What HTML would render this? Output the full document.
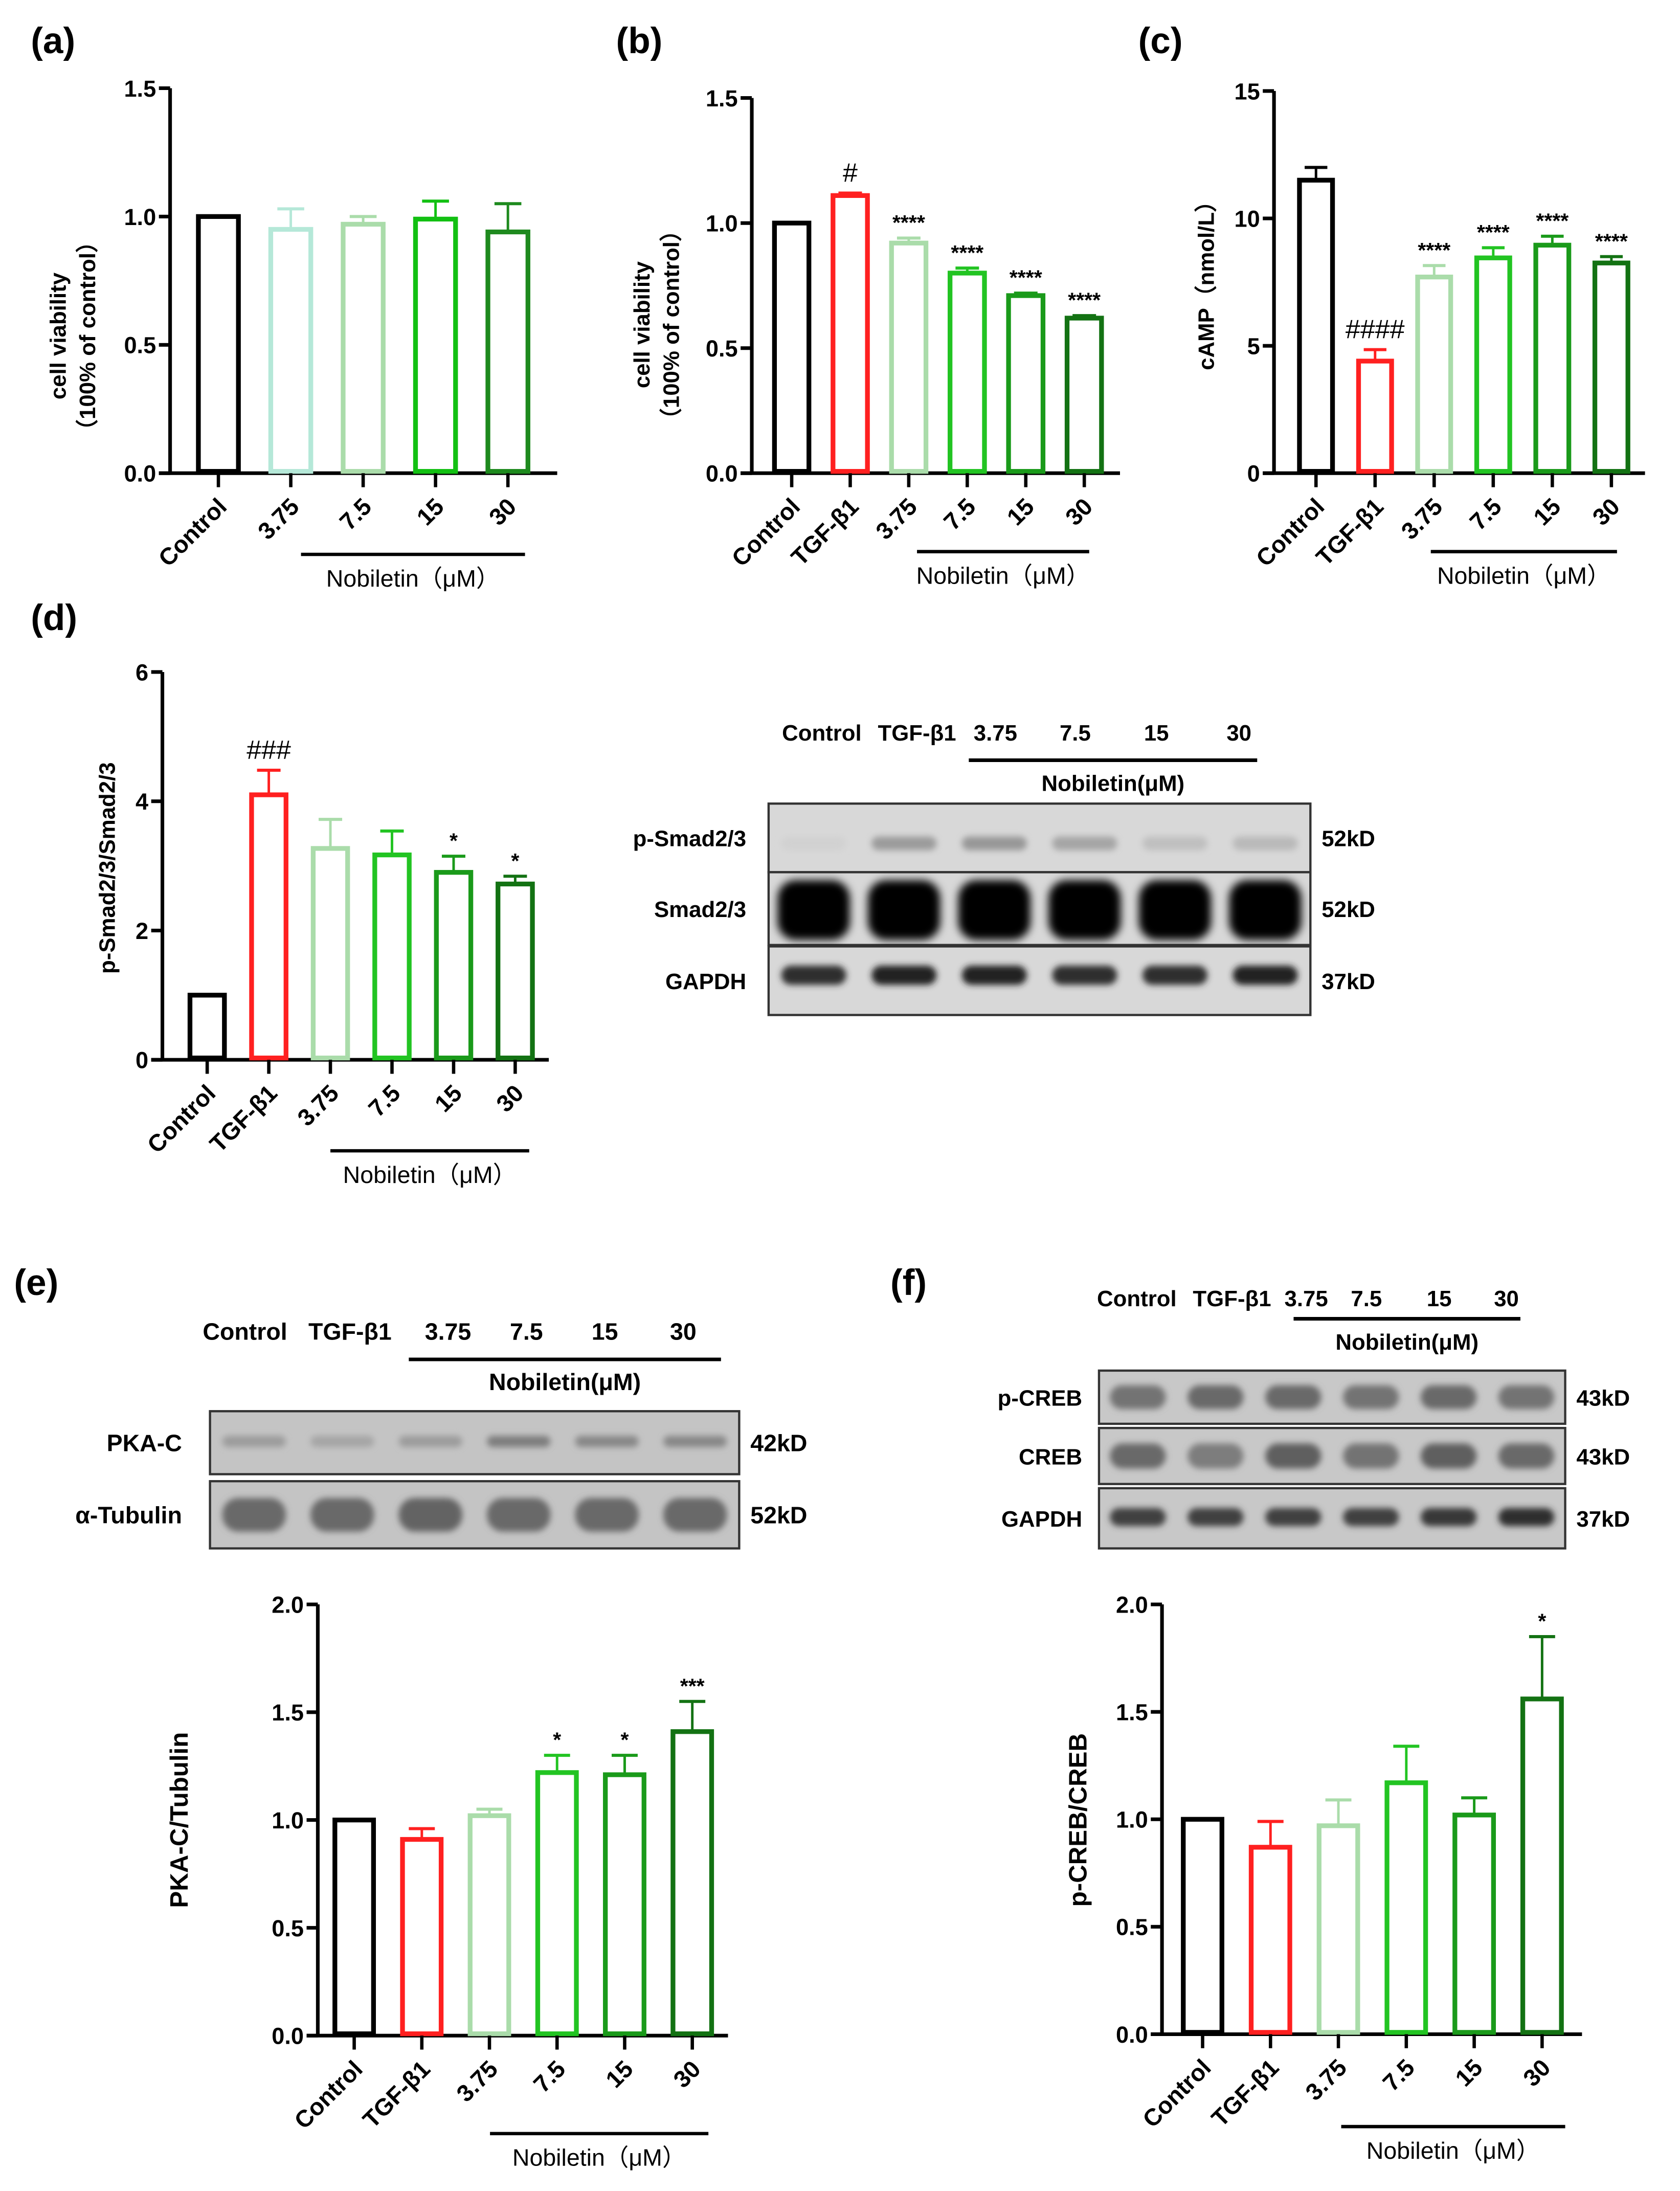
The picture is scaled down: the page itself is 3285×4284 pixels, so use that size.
<!DOCTYPE html>
<html><head><meta charset="utf-8"><style>
html,body{margin:0;padding:0;background:#fff}
svg{display:block}
text{font-family:"Liberation Sans",Arial,sans-serif;font-weight:bold;fill:#000}
</style></head><body>
<svg id="fig" width="3285" height="4284" viewBox="0 0 1200 1565" preserveAspectRatio="none" xmlns="http://www.w3.org/2000/svg">
<defs>
<filter id="blur" x="-30%" y="-100%" width="160%" height="300%"><feGaussianBlur stdDeviation="2.2"/></filter>
<filter id="blur2" x="-30%" y="-50%" width="160%" height="200%"><feGaussianBlur stdDeviation="3"/></filter>
</defs>
<g id="root"></g>
</svg>
<script>
// ---------- data ----------
const aCats=["Control","3.75","7.5","15","30"];
const aVals=[1.0,0.95,0.97,0.99,0.94];
const aErrs=[0,0.08,0.03,0.07,0.11];
const aTicks=[0,0.5,1.0,1.5];
const aTickLabels=["0.0","0.5","1.0","1.5"];

const bCats=["Control","TGF-β1","3.75","7.5","15","30"];
const bVals=[1.0,1.11,0.92,0.80,0.71,0.62];
const bErrs=[0,0.01,0.02,0.02,0.01,0.01];
const bMarks=["","#","****","****","****","****"];
const bTicks=[0,0.5,1.0,1.5];
const bTickLabels=["0.0","0.5","1.0","1.5"];

const cCats=["Control","TGF-β1","3.75","7.5","15","30"];
const cVals=[11.5,4.4,7.7,8.45,8.95,8.25];
const cErrs=[0.5,0.45,0.45,0.4,0.35,0.25];
const cMarks=["","####","****","****","****","****"];
const cTicks=[0,5,10,15];
const cTickLabels=["0","5","10","15"];

const dCats=["Control","TGF-β1","3.75","7.5","15","30"];
const dVals=[1.0,4.1,3.27,3.17,2.9,2.72];
const dErrs=[0,0.38,0.45,0.37,0.25,0.12];
const dMarks=["","###","","","*","*"];
const dTicks=[0,2,4,6];
const dTickLabels=["0","2","4","6"];

const eCats=["Control","TGF-β1","3.75","7.5","15","30"];
const eVals=[1.0,0.91,1.02,1.22,1.21,1.41];
const eErrs=[0,0.05,0.03,0.08,0.09,0.14];
const eMarks=["","","","*","*","***"];
const eTicks=[0,0.5,1.0,1.5,2.0];
const eTickLabels=["0.0","0.5","1.0","1.5","2.0"];

const fCats=["Control","TGF-β1","3.75","7.5","15","30"];
const fVals=[1.0,0.87,0.97,1.17,1.02,1.56];
const fErrs=[0,0.12,0.12,0.17,0.08,0.29];
const fMarks=["","","","","","*"];
const fTicks=[0,0.5,1.0,1.5,2.0];
const fTickLabels=["0.0","0.5","1.0","1.5","2.0"];

// ---------- helpers ----------
const NS="http://www.w3.org/2000/svg";
const root=document.getElementById('root');
function el(tag,attrs,parent,txt){const e=document.createElementNS(NS,tag);for(const k in attrs)e.setAttribute(k,attrs[k]);if(txt!==undefined)e.textContent=txt;(parent||root).appendChild(e);return e;}

function chart(o){
  const g=el('g',{});
  
  
  const y=v=>o.y0-(v-o.min)/(o.max-o.min)*(o.y0-o.yTop);
  const x=i=>o.x0+o.first+i*o.step;
  const ya=el('line',{x1:o.x0,y1:o.yTop,x2:o.x0,y2:o.y0,stroke:'#000','stroke-width':2.6},g);
  
  
  const xa=el('line',{x1:o.x0-8,y1:o.y0,x2:o.xEnd,y2:o.y0,stroke:'#000','stroke-width':2.6},g);
  
  
  o.ticks.forEach((t,i)=>{
    el('line',{x1:o.x0-8,y1:y(t),x2:o.x0,y2:y(t),stroke:'#000','stroke-width':2.6},g);
    const tl=el('text',{x:o.x0-10,y:y(t)+6,'text-anchor':'end','font-size':16.5},g,o.tickLabels[i]);
    
    
  });
  o.cats.forEach((c,i)=>{
    const cx=x(i),v=o.vals[i],e=o.errs[i],col=o.colors[i],w=o.bw;
    if(e>0){
      el('line',{x1:cx,y1:y(v),x2:cx,y2:y(v+e),stroke:col,'stroke-width':1.8},g);
      el('line',{x1:cx-w*0.3,y1:y(v+e),x2:cx+w*0.3,y2:y(v+e),stroke:col,'stroke-width':2.2},g);
    }
    const r=el('rect',{x:cx-w/2+1.7,y:y(v),width:w-3.4,height:o.y0-y(v)-1.3,fill:'#fff',stroke:col,'stroke-width':3.4},g);
    
    
    el('line',{x1:cx,y1:o.y0,x2:cx,y2:o.y0+10,stroke:'#000','stroke-width':2.4},g);
    const lt=el('text',{x:cx+7,y:o.y0+25,'text-anchor':'end','font-size':17,transform:`rotate(-45 ${cx+7} ${o.y0+25})`},g,c);
    
    
    if(o.marks&&o.marks[i]){
      const isHash=o.marks[i][0]==='#';
      const my=y(v+e)-(isHash?8:6);
      const m=el('text',{x:cx,y:my,'text-anchor':'middle','font-size':isHash?19:15},g,o.marks[i]);
      if(isHash)m.setAttribute('style','font-weight:normal');
      
      
    }
  });
  const bl=el('line',{x1:o.brX1,y1:o.brY,x2:o.brX2,y2:o.brY,stroke:'#000','stroke-width':2.4},g);
  
  
  const bt=el('text',{x:(o.brX1+o.brX2)/2,y:o.brY+23,'text-anchor':'middle','font-size':17,style:'font-weight:normal'},g,'Nobiletin（μM）');
  
  
  const yl=el('text',{transform:`translate(${o.ytX},${o.ytY}) rotate(-90)`,'text-anchor':'middle','font-size':o.ytSize||16},g);
  
  
  o.ytLines.forEach((s,k)=>{el('tspan',{x:0,dy:k?21:0},yl,s);});
}

function panelLabel(t,x,y){const p=el('text',{x:x,y:y,'font-size':26},root,t);}

function blot(o){
  const g=el('g',{});
  
  
  o.cols.forEach((c,i)=>{
    const t=el('text',{x:o.colX[i],y:o.colY,'text-anchor':'middle','font-size':o.fs},g,c);
    
    
  });
  el('line',{x1:o.brX1,y1:o.brY,x2:o.brX2,y2:o.brY,stroke:'#000','stroke-width':2.6},g);
  const nb=el('text',{x:(o.brX1+o.brX2)/2,y:o.brY+22,'text-anchor':'middle','font-size':o.fs},g,'Nobiletin(μM)');
  
  
  o.rows.forEach(r=>{
    const rg=el('g',{},g);
    
    
    el('rect',{x:o.x1,y:r.y1,width:o.x2-o.x1,height:r.y2-r.y1,fill:o.bg||'#d4d4d4',stroke:'#333','stroke-width':1.6},rg);
    const h=r.y2-r.y1;
    r.bands.forEach((a,i)=>{
      if(a<=0)return;
      const lw=(o.x2-o.x1)/r.bands.length;
      const cx=o.x1+(i+0.5)*lw;
      const bw=lw*(r.bw||0.72);
      const bh=h*r.bh;
      const sh=Math.round(215-a*200);
      el('rect',{x:cx-bw/2,y:r.y1+h*r.cy-bh/2,width:bw,height:bh,rx:Math.min(bh/2,bw/4),fill:`rgb(${sh},${sh},${sh})`,filter:r.bh>0.6?'url(#blur2)':'url(#blur)'},rg);
    });
    el('text',{x:o.x1-o.lgap,y:(r.y1+r.y2)/2+6,'text-anchor':'end','font-size':o.fs},rg,r.label);
    el('text',{x:o.x2+8,y:(r.y1+r.y2)/2+6,'font-size':o.fs},rg,r.kd);
  });
}

// ---------- panels ----------
panelLabel('(a)',22,38);panelLabel('(b)',440,38);panelLabel('(c)',813,38);
panelLabel('(d)',22,450);panelLabel('(e)',10,925);panelLabel('(f)',636,925);

chart({name:'chart-a-cell-viability',cats:aCats,vals:aVals,errs:aErrs,ticks:aTicks,tickLabels:aTickLabels,min:0,max:1.5,
 x0:121.5,yTop:63,y0:338,xEnd:398,first:34.5,step:51.7,bw:32,
 colors:['#000','#b5e8d8','#aadcaa','#12c012','#1e8a1e'],
 brX1:215,brX2:375,brY:396,ytX:47,ytY:240,ytLines:['cell viability','（100% of control）']});

chart({name:'chart-b-cell-viability',cats:bCats,vals:bVals,errs:bErrs,marks:bMarks,ticks:bTicks,tickLabels:bTickLabels,min:0,max:1.5,
 x0:537,yTop:70,y0:338,xEnd:800,first:28.5,step:41.8,bw:28,
 colors:['#000','#ff2020','#aadcaa','#22c422','#1a9a1a','#137213'],
 brX1:655,brX2:778,brY:394,ytX:464,ytY:232,ytLines:['cell viability','（100% of control）']});

chart({name:'chart-c-camp',cats:cCats,vals:cVals,errs:cErrs,marks:cMarks,ticks:cTicks,tickLabels:cTickLabels,min:0,max:15,
 x0:910,yTop:65,y0:338,xEnd:1175,first:30,step:42.2,bw:27,
 colors:['#000','#ff2020','#aadcaa','#22c422','#1a9a1a','#137213'],
 brX1:1022,brX2:1155,brY:394,ytX:867,ytY:200,ytLines:['cAMP（nmol/L）']});

chart({name:'chart-d-psmad',cats:dCats,vals:dVals,errs:dErrs,marks:dMarks,ticks:dTicks,tickLabels:dTickLabels,min:0,max:6,
 x0:116,yTop:480,y0:757,xEnd:392,first:32,step:44,bw:28,
 colors:['#000','#ff2020','#aadcaa','#22c422','#1a9a1a','#137213'],
 brX1:236,brX2:378,brY:822,ytX:82,ytY:620,ytLines:['p-Smad2/3/Smad2/3']});

chart({name:'chart-e-pka',cats:eCats,vals:eVals,errs:eErrs,marks:eMarks,ticks:eTicks,tickLabels:eTickLabels,min:0,max:2.0,
 x0:227,yTop:1146,y0:1454,xEnd:520,first:26,step:48.3,bw:31,
 colors:['#000','#ff2020','#aadcaa','#22c422','#1a9a1a','#137213'],
 brX1:350,brX2:506,brY:1524,ytX:134,ytY:1300,ytSize:18,ytLines:['PKA-C/Tubulin']});

chart({name:'chart-f-pcreb',cats:fCats,vals:fVals,errs:fErrs,marks:fMarks,ticks:fTicks,tickLabels:fTickLabels,min:0,max:2.0,
 x0:830,yTop:1146,y0:1453,xEnd:1130,first:29,step:48.5,bw:31,
 colors:['#000','#ff2020','#aadcaa','#22c422','#1a9a1a','#137213'],
 brX1:958,brX2:1118,brY:1519,ytX:776,ytY:1300,ytSize:18,ytLines:['p-CREB/CREB']});

blot({name:'blot-d',fs:16,cols:['Control','TGF-β1','3.75','7.5','15','30'],colX:[587,655,711,768,826,885],colY:529,
 brX1:692,brX2:898,brY:543,x1:549,x2:936,lgap:16,bg:'#d8d8d8',
 rows:[{label:'p-Smad2/3',kd:'52kD',y1:574,y2:623,cy:0.58,bh:0.2,bands:[0.03,0.3,0.32,0.25,0.12,0.15]},
       {label:'Smad2/3',kd:'52kD',y1:623,y2:675,cy:0.52,bh:0.82,bw:0.8,bands:[1.05,1.05,1.05,1.05,1.05,1.05]},
       {label:'GAPDH',kd:'37kD',y1:676,y2:725,cy:0.42,bh:0.28,bands:[0.85,0.9,0.9,0.85,0.85,0.9]}]});

blot({name:'blot-e',fs:17,cols:['Control','TGF-β1','3.75','7.5','15','30'],colX:[175,250,320,376,432,488],colY:957,
 brX1:292,brX2:515,brY:971,x1:150,x2:528,lgap:20,bg:'#c4c4c4',
 rows:[{label:'PKA-C',kd:'42kD',y1:1008,y2:1053,cy:0.48,bh:0.18,bands:[0.3,0.25,0.3,0.45,0.4,0.4]},
       {label:'α-Tubulin',kd:'52kD',y1:1058,y2:1106,cy:0.5,bh:0.5,bands:[0.55,0.55,0.58,0.55,0.55,0.55]}]});

blot({name:'blot-f',fs:16,cols:['Control','TGF-β1','3.75','7.5','15','30'],colX:[812,880,933,976,1028,1076],colY:933,
 brX1:924,brX2:1086,brY:942,x1:785,x2:1118,lgap:12,bg:'#c8c8c8',
 rows:[{label:'p-CREB',kd:'43kD',y1:979,y2:1017,cy:0.5,bh:0.45,bands:[0.5,0.55,0.55,0.5,0.55,0.5]},
       {label:'CREB',kd:'43kD',y1:1020,y2:1060,cy:0.5,bh:0.45,bands:[0.55,0.45,0.6,0.5,0.6,0.55]},
       {label:'GAPDH',kd:'37kD',y1:1063,y2:1106,cy:0.48,bh:0.3,bands:[0.75,0.75,0.75,0.75,0.8,0.85]}]});
</script>
</body></html>
